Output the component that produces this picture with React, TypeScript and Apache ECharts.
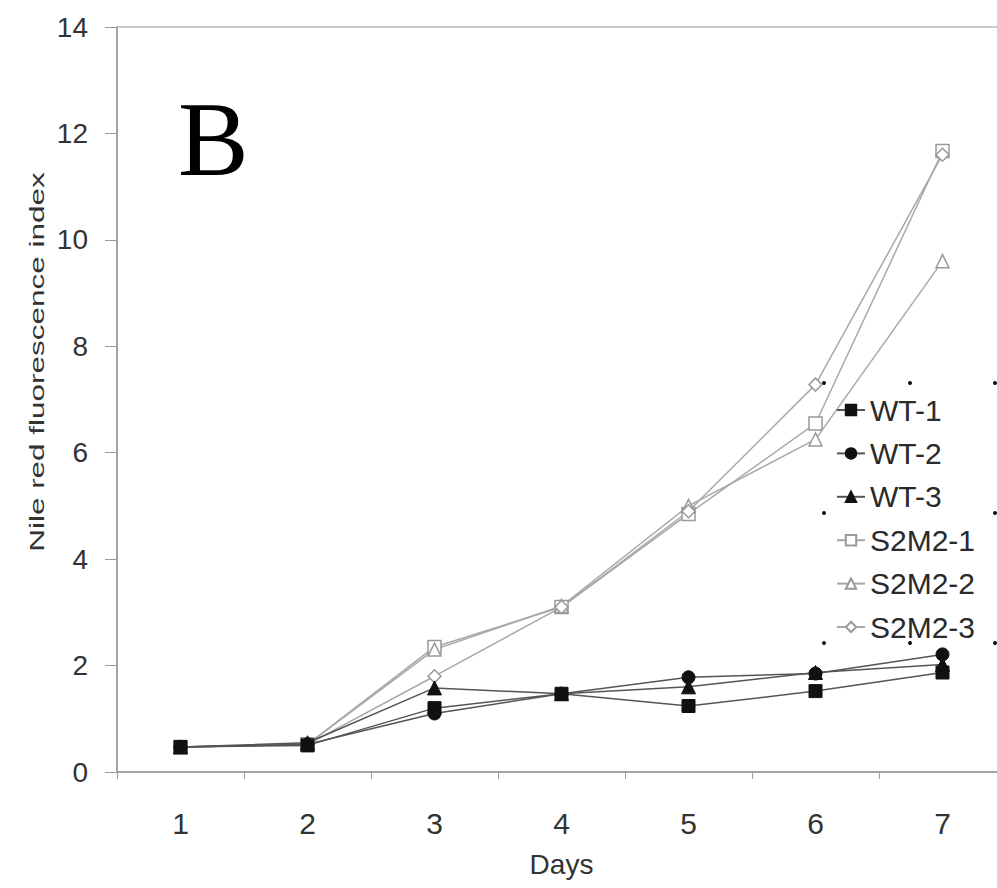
import React, { useEffect, useRef } from "react";
import * as echarts from "echarts";

const days = ["1", "2", "3", "4", "5", "6", "7"];
const wt1 = [0.47, 0.5, 1.2, 1.47, 1.24, 1.52, 1.87];
const wt2 = [0.47, 0.52, 1.1, 1.47, 1.78, 1.85, 2.21];
const wt3 = [0.47, 0.55, 1.58, 1.47, 1.6, 1.87, 2.02];
const s2m2_1 = [0.47, 0.52, 2.35, 3.1, 4.85, 6.55, 11.67];
const s2m2_2 = [0.47, 0.52, 2.3, 3.12, 5.0, 6.25, 9.6];
const s2m2_3 = [0.47, 0.52, 1.8, 3.1, 4.9, 7.28, 11.6];
const yTicks = { min: 0, max: 14, interval: 2 };
const legendNames = ["WT-1", "WT-2", "WT-3", "S2M2-1", "S2M2-2", "S2M2-3"];

const WT_LINE = "#555555";
const S_LINE = "#a8a8a8";
const FONT = "Liberation Sans, Arial, sans-serif";

function wtSeries(name: string, data: number[], symbol: string) {
  return {
    name,
    type: "line",
    data,
    symbol,
    symbolSize: symbol === "triangle" ? 14 : 13,
    lineStyle: { color: WT_LINE, width: 1.5 },
    itemStyle: { color: "#111111", borderColor: "#111111", borderWidth: 1 },
  };
}

function sSeries(name: string, data: number[], symbol: string) {
  return {
    name,
    type: "line",
    data,
    symbol,
    symbolSize: 13,
    lineStyle: { color: S_LINE, width: 1.5 },
    itemStyle: { color: "#ffffff", borderColor: "#999999", borderWidth: 1.5 },
  };
}

export default function App() {
  const ref = useRef<HTMLDivElement>(null);
  useEffect(() => {
    document.body.style.margin = "0";
    const chart = echarts.init(ref.current!, null, { renderer: "svg" });
    const dots = [
      [824, 383], [910, 383], [995, 383],
      [824, 513], [995, 513],
      [824, 643], [910, 643], [995, 643],
    ];
    chart.setOption({
      animation: false,
      backgroundColor: "#ffffff",
      textStyle: { fontFamily: FONT },
      grid: {
        left: 117,
        top: 27,
        width: 889,
        bottom: 116,
        containLabel: false,
        outerBoundsMode: "none",
        show: true,
        borderColor: "#999999",
        borderWidth: 1,
      },
      xAxis: {
        type: "category",
        data: days,
        boundaryGap: true,
        name: "Days",
        nameLocation: "middle",
        nameGap: 78,
        nameTextStyle: { fontSize: 28, color: "#333333" },
        axisLine: { lineStyle: { color: "#999999", width: 1.5 } },
        axisTick: { show: true, length: 7, lineStyle: { color: "#999999" } },
        axisLabel: { fontSize: 30, color: "#333333", margin: 36 },
        splitLine: { show: false },
      },
      yAxis: {
        type: "value",
        min: yTicks.min,
        max: yTicks.max,
        interval: yTicks.interval,
        axisLine: { show: true, lineStyle: { color: "#999999", width: 1.5 } },
        axisTick: { show: true, length: 12, lineStyle: { color: "#999999" } },
        axisLabel: { fontSize: 28, color: "#333333", margin: 29 },
        splitLine: { show: false },
      },
      legend: {
        orient: "vertical",
        left: 836,
        top: 395,
        padding: 0,
        itemWidth: 28,
        itemHeight: 13,
        itemGap: 13.4,
        textStyle: { fontSize: 30, color: "#2a2a2a", lineHeight: 30 },
        data: legendNames,
      },
      graphic: [
        {
          type: "text",
          left: 178,
          top: 86,
          style: {
            text: "B",
            fontSize: 106,
            fontFamily: "Liberation Serif, Times New Roman, serif",
            fill: "#000000",
          },
        },
        {
          type: "text",
          x: 37,
          y: 362,
          rotation: Math.PI / 2,
          scaleX: 1.5,
          style: {
            text: "Nile red fluorescence index",
            fontSize: 21,
            fontFamily: FONT,
            fill: "#333333",
            align: "center",
            verticalAlign: "middle",
          },
        },
        ...dots.map(([x, y]) => ({
          type: "circle",
          shape: { cx: x, cy: y, r: 2 },
          style: { fill: "#111111" },
        })),
      ],
      series: [
        sSeries("S2M2-1", s2m2_1, "rect"),
        sSeries("S2M2-2", s2m2_2, "triangle"),
        sSeries("S2M2-3", s2m2_3, "diamond"),
        wtSeries("WT-1", wt1, "rect"),
        wtSeries("WT-2", wt2, "circle"),
        wtSeries("WT-3", wt3, "triangle"),
      ],
    });
    return () => chart.dispose();
  }, []);
  return <div ref={ref} style={{ width: 997, height: 888 }} />;
}
